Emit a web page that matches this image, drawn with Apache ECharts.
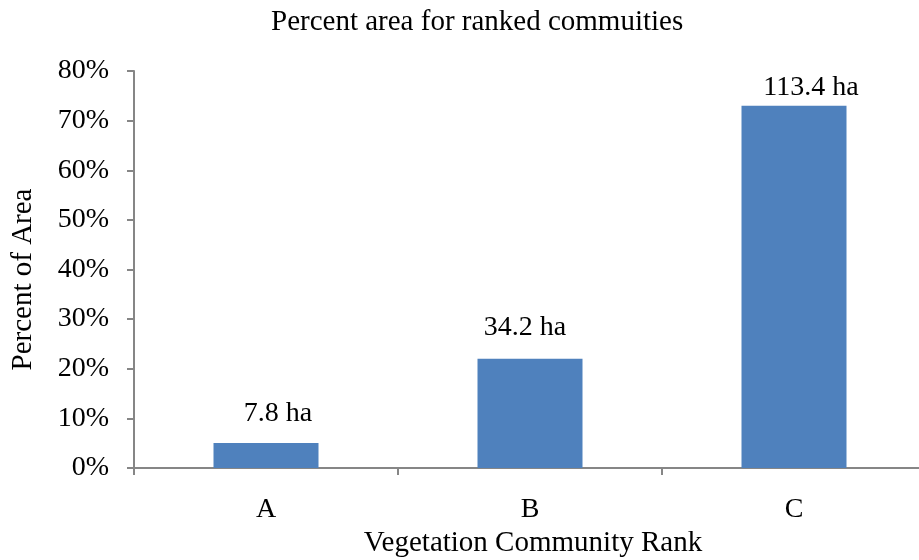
<!DOCTYPE html>
<html>
<head>
<meta charset="utf-8">
<script src="https://cdn.jsdelivr.net/npm/echarts@6/dist/echarts.min.js"></script>
<style>
  html, body { margin: 0; padding: 0; background: #ffffff; overflow: hidden; }
  #chart { width: 919px; height: 560px; }
</style>
</head>
<body>
<div id="chart"></div>
<script>
// Community ranks and the area (hectares) each one covers
const categories = ['A', 'B', 'C'];
const areaHa = [7.8, 34.2, 113.4];
const yTicks = ['0%', '10%', '20%', '30%', '40%', '50%', '60%', '70%', '80%'];

// Share of the total area, in percent
const totalHa = areaHa.reduce((s, v) => s + v, 0);
const percentArea = areaHa.map(v => v / totalHa * 100);

// Per-bar label nudges (x, y) in pixels
const labelOffsets = [[12, -5], [-5, -7], [17, 6]];

const FONT = '"Liberation Serif", "Times New Roman", serif';
const FS_TEXT = 29;
const FS_TICK = 28;

const chart = echarts.init(document.getElementById('chart'), null, { renderer: 'canvas' });

chart.setOption({
  animation: false,
  backgroundColor: '#ffffff',
  title: {
    text: 'Percent area for ranked commuities',
    left: 266,
    top: 3,
    textStyle: { fontFamily: FONT, fontSize: FS_TEXT, fontWeight: 'normal', color: '#000000' }
  },
  // The plot runs slightly past the right edge of the canvas
  grid: { left: 134, top: 71, width: 792, height: 397, containLabel: false, outerBoundsMode: 'none' },
  xAxis: {
    type: 'category',
    data: categories,
    name: 'Vegetation Community Rank',
    nameLocation: 'middle',
    nameGap: 53,
    nameTextStyle: { fontFamily: FONT, fontSize: FS_TEXT, color: '#000000', padding: [0, 0, 0, 6] },
    axisLine: { lineStyle: { color: '#868686', width: 2 } },
    axisTick: { show: true, length: 7, lineStyle: { color: '#868686', width: 2 } },
    axisLabel: { fontFamily: FONT, fontSize: FS_TICK, color: '#000000', margin: 28 },
    splitLine: { show: false }
  },
  yAxis: {
    type: 'value',
    min: 0,
    max: 80,
    interval: 10,
    name: 'Percent of Area',
    nameLocation: 'middle',
    nameGap: 96,
    nameTextStyle: { fontFamily: FONT, fontSize: FS_TEXT, color: '#000000', padding: [0, 0, 0, -20] },
    axisLine: { show: true, lineStyle: { color: '#868686', width: 2 } },
    axisTick: { show: true, length: 7, lineStyle: { color: '#868686', width: 2 } },
    axisLabel: {
      fontFamily: FONT, fontSize: FS_TICK, color: '#000000', margin: 25,
      formatter: v => yTicks[Math.round(v / 10)]
    },
    splitLine: { show: false }
  },
  series: [{
    type: 'bar',
    barWidth: 105,
    itemStyle: { color: '#4F81BD' },
    data: percentArea.map((p, i) => ({
      value: p,
      label: {
        show: true,
        position: 'top',
        distance: 10,
        offset: labelOffsets[i],
        formatter: () => areaHa[i] + ' ha',
        fontFamily: FONT,
        fontSize: FS_TICK,
        color: '#000000'
      }
    }))
  }]
});
</script>
</body>
</html>
